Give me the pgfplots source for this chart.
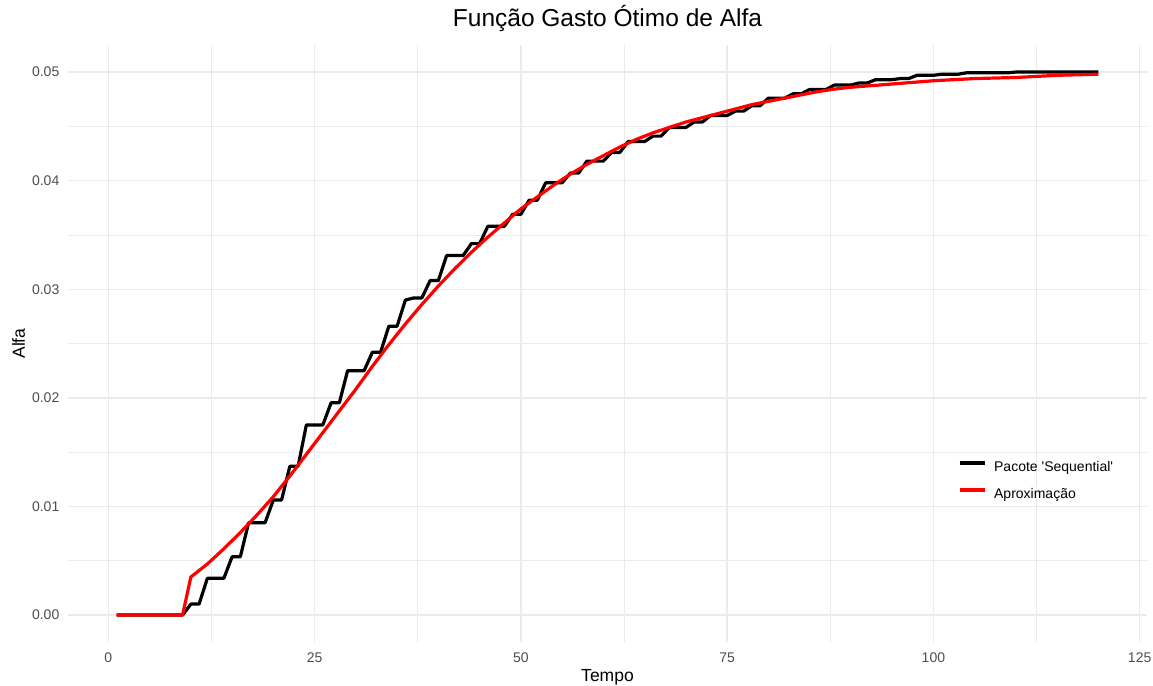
\documentclass[border=0pt]{standalone}
\usepackage{pgfplots}
\pgfplotsset{compat=1.18}
\usepackage{fontspec}
\setmainfont{Liberation Sans}
\definecolor{gridc}{HTML}{EBEBEB}
\definecolor{tickc}{HTML}{4D4D4D}
\begin{document}
\begin{tikzpicture}
\path[use as bounding box] (0,0) rectangle (1153bp,686bp);
\begin{axis}[
  at={(67.5bp,43.8bp)}, anchor=south west,
  scale only axis, width=1080bp, height=597.3bp,
  xmin=-4.95, xmax=125.95, ymin=-0.0025, ymax=0.0525,
  axis line style={draw=none},
  tick style={draw=none},
  major tick length=0pt, minor tick length=0pt,
  xtick={0,25,50,75,100,125},
  xticklabels={0,25,50,75,100,125},
  ytick={0,0.01,0.02,0.03,0.04,0.05},
  yticklabels={0.00,0.01,0.02,0.03,0.04,0.05},
  minor xtick={12.5,37.5,62.5,87.5,112.5},
  minor ytick={0.005,0.015,0.025,0.035,0.045},
  grid=both,
  major grid style={gridc, line width=1.5bp},
  minor grid style={gridc, line width=0.75bp},
  scaled y ticks=false, scaled x ticks=false,
  ticklabel style={font=\fontsize{14bp}{16bp}\selectfont, text=tickc},
  yticklabel style={anchor=east, inner sep=0pt, xshift=-8bp},
  xticklabel style={anchor=north, inner sep=0pt, yshift=-10bp},
  xlabel={Tempo},
  xlabel style={at={(axis description cs:0.5,-0.0666)}, anchor=base, inner sep=0pt, font=\fontsize{17.5bp}{20bp}\selectfont},
  ylabel={Alfa},
  ylabel style={at={(axis description cs:-0.0394,0.5)}, anchor=base, inner sep=0pt, font=\fontsize{17.5bp}{20bp}\selectfont},
  title={Função Gasto Ótimo de Alfa},
  title style={at={(axis description cs:0.5,1.0201)}, anchor=base, inner sep=0pt, font=\fontsize{24.5bp}{28bp}\selectfont},
  legend style={at={(axis description cs:0.8245,0.3034)}, anchor=north west, draw=none, fill=none, inner sep=0pt, outer sep=0pt, row sep=13bp, font=\fontsize{14bp}{16bp}\selectfont, nodes={inner sep=0pt, text height=11bp, text depth=3bp}},
  legend cell align=left,
  legend image code/.code={\draw[#1, line width=3.2bp] (0bp,5bp) -- (25bp,5bp); \path (33bp,5bp);},
]
\addplot[black, line width=3.2bp, line join=round] coordinates {
(1,0)(2,0)(3,0)(4,0)(5,0)(6,0)(7,0)(8,0)(9,0)
(10,0.00101)(11,0.00101)
(12,0.00338)(13,0.00338)(14,0.00338)
(15,0.00537)(16,0.00537)
(17,0.0085)(18,0.0085)(19,0.0085)
(20,0.0106)(21,0.0106)
(22,0.0137)(23,0.0137)
(24,0.0175)(25,0.0175)(26,0.0175)
(27,0.01955)(28,0.01955)
(29,0.0225)(30,0.0225)(31,0.0225)
(32,0.0242)(33,0.0242)
(34,0.0266)(35,0.0266)
(36,0.0290)(37,0.0292)(38,0.0292)
(39,0.0308)(40,0.0308)
(41,0.0331)(42,0.0331)(43,0.0331)
(44,0.0342)(45,0.0342)
(46,0.0358)(47,0.0358)(48,0.0358)
(49,0.0369)(50,0.0369)
(51,0.0382)(52,0.0382)
(53,0.0398)(54,0.0398)(55,0.0398)
(56,0.0407)(57,0.0407)
(58,0.0418)(59,0.0418)(60,0.0418)
(61,0.0426)(62,0.0426)
(63,0.0436)(64,0.0436)(65,0.0436)
(66,0.0441)(67,0.0441)
(68,0.0449)(69,0.0449)(70,0.0449)
(71,0.0454)(72,0.0454)
(73,0.0460)(74,0.0460)(75,0.0460)
(76,0.0464)(77,0.0464)
(78,0.0469)(79,0.0469)
(80,0.0476)(81,0.0476)(82,0.0476)
(83,0.0480)(84,0.0480)
(85,0.0484)(86,0.0484)(87,0.0484)
(88,0.0488)(89,0.0488)(90,0.0488)
(91,0.0490)(92,0.0490)
(93,0.0493)(94,0.0493)(95,0.0493)
(96,0.0494)(97,0.0494)
(98,0.0497)(99,0.0497)(100,0.0497)
(101,0.0498)(102,0.0498)(103,0.0498)
(104,0.04993)(105,0.04993)(106,0.04993)(107,0.04993)(108,0.04993)(109,0.04993)
(110,0.0500)(111,0.0500)(112,0.0500)(113,0.0500)(114,0.0500)(115,0.0500)
(116,0.0500)(117,0.0500)(118,0.0500)(119,0.0500)(120,0.0500)
};
\addlegendentry{Pacote \textquotesingle Sequential\textquotesingle}
\addplot[red, line width=3.2bp, line join=round] coordinates {
(1,0)(9,0)(10,0.0035)(12,0.0047)(14,0.0061)(16,0.0076)(18,0.0092)(20,0.0109)
(22,0.0128)(24,0.0148)(26,0.0168)(28,0.0188)(30,0.0208)(32,0.0229)(34,0.0249)
(36,0.0268)(38,0.0286)(40,0.0303)(42,0.0319)(44,0.0334)(46,0.0348)(48,0.0361)
(50,0.0374)(52,0.0385)(54,0.0396)(56,0.0406)(58,0.0415)(60,0.0423)(62,0.0431)
(64,0.0438)(66,0.0444)(68,0.0449)(70,0.0454)(72,0.0458)(74,0.0462)(76,0.0466)
(78,0.0470)(80,0.0473)(82,0.0476)(84,0.0479)(86,0.0482)(88,0.04843)(90,0.0486)
(95,0.0489)(100,0.0492)(105,0.0494)(110,0.0495)(115,0.0497)(120,0.0498)
};
\addlegendentry{Aproximação}
\end{axis}
\end{tikzpicture}
\end{document}
